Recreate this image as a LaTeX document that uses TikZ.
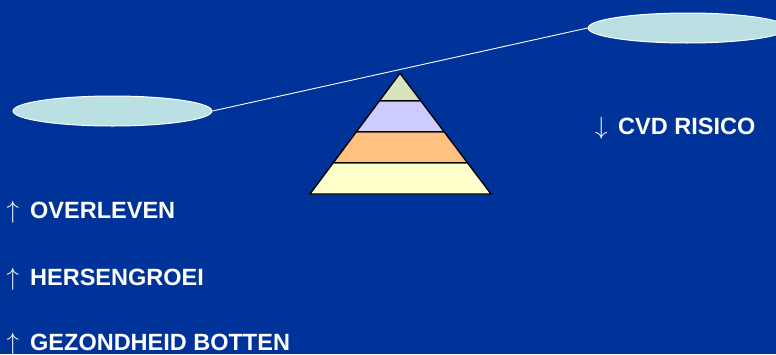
\documentclass[tikz,border=0pt]{standalone}
\usepackage{fontspec}
\setmainfont{Liberation Sans}
\usetikzlibrary{shapes.geometric,calc}
\definecolor{bgblue}{RGB}{0,51,153}
\definecolor{ellfill}{RGB}{187,224,227}
\definecolor{tiergreen}{RGB}{215,228,189}
\definecolor{tierlav}{RGB}{204,204,255}
\definecolor{tierorange}{RGB}{255,192,128}
\definecolor{tieryellow}{RGB}{255,255,204}
\tikzset{
  pan/.style={ellipse, draw=white, line width=1pt, fill=ellfill, minimum width=199pt, minimum height=30pt, inner sep=0pt},
  tier/.style={draw=black, line width=1.3pt, line join=miter},
  lever/.style={draw=white, line width=0.9pt},
  label/.style={anchor=base west, inner sep=0pt, text=white, font=\fontsize{23.5}{28}\selectfont}
}
\newcommand{\upar}{\makebox[23.5pt][l]{$\uparrow$}}
\newcommand{\downar}{\makebox[23pt][l]{$\downarrow$}}
\begin{document}
\begin{tikzpicture}[x=1pt,y=-1pt]
\useasboundingbox (0,0) rectangle (776,354);
\fill[bgblue] (0,0) rectangle (776,354);
\clip (0,0) rectangle (776,354);
% pyramid
\coordinate (apex) at (400,73.3);
\coordinate (bl) at (310,194);
\coordinate (br) at (491,194);
\coordinate (l1) at ($(apex)!0.227!(bl)$);
\coordinate (r1) at ($(apex)!0.227!(br)$);
\coordinate (l2) at ($(apex)!0.484!(bl)$);
\coordinate (r2) at ($(apex)!0.484!(br)$);
\coordinate (l3) at ($(apex)!0.741!(bl)$);
\coordinate (r3) at ($(apex)!0.741!(br)$);
\filldraw[tier, fill=tieryellow] (l3) -- (r3) -- (br) -- (bl) -- cycle;
\filldraw[tier, fill=tierorange] (l2) -- (r2) -- (r3) -- (l3) -- cycle;
\filldraw[tier, fill=tierlav] (l1) -- (r1) -- (r2) -- (l2) -- cycle;
\filldraw[tier, fill=tiergreen] (apex) -- (r1) -- (l1) -- cycle;
% lever
\node[pan] (L) at (112.5,111) {};
\node[pan] (R) at (687.5,28) {};
\draw[lever] (L.east) -- (R.west);
% labels
\node[label] (cvd) at (595,134.5) {\downar\textbf{CVD RISICO}};
\node[label] (ov) at (6.5,218.5) {\upar\textbf{OVERLEVEN}};
\node[label] (hg) at (6.5,285) {\upar\textbf{HERSENGROEI}};
\node[label] (gb) at (6.5,350.5) {\upar\textbf{GEZONDHEID BOTTEN}};
\end{tikzpicture}
\end{document}
